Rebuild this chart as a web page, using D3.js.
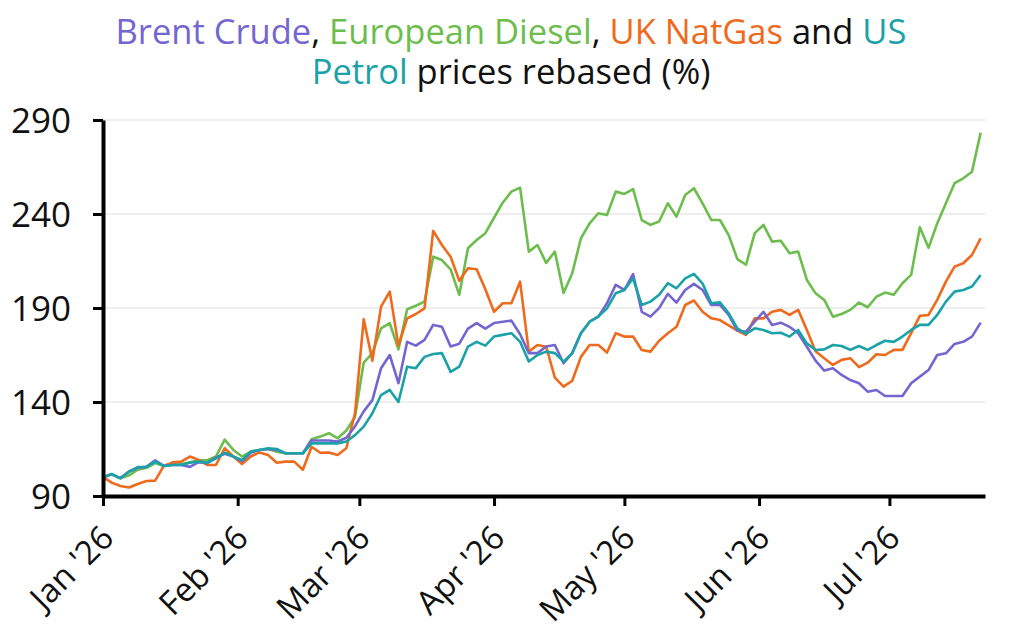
<!DOCTYPE html>
<html lang="en">
<head>
    <meta charset="UTF-8">
    <title>Energy prices rebased</title>
    <script src="https://d3js.org/d3.v7.min.js"></script>
    <style>
        body {
            margin: 0;
            padding: 0;
            background-color: #ffffff;
        }
        svg {
            display: block;
        }
        .grid line {
            stroke: #dddddd;
            stroke-width: 1.2;
        }
        .axis path, .axis line {
            stroke: #000;
        }
        .axis text {
            fill: #111;
        }
    </style>
</head>
<body>
<div id="chart"></div>
<script>
    // sample dates (every second day), Jan 1 to Jul 22 2026
    var dates = [
        "2026-01-01", "2026-01-03", "2026-01-05", "2026-01-07", "2026-01-09", "2026-01-11", "2026-01-13", "2026-01-15",
        "2026-01-17", "2026-01-19", "2026-01-21", "2026-01-23", "2026-01-25", "2026-01-27", "2026-01-29", "2026-01-31",
        "2026-02-02", "2026-02-04", "2026-02-06", "2026-02-08", "2026-02-10", "2026-02-12", "2026-02-14",
        "2026-02-16", "2026-02-18", "2026-02-20", "2026-02-22", "2026-02-24", "2026-02-26", "2026-02-28",
        "2026-03-02", "2026-03-04", "2026-03-06", "2026-03-08", "2026-03-10", "2026-03-12", "2026-03-14", "2026-03-16",
        "2026-03-18", "2026-03-20", "2026-03-22", "2026-03-24", "2026-03-26", "2026-03-28", "2026-03-30",
        "2026-04-01", "2026-04-03", "2026-04-05", "2026-04-07", "2026-04-09", "2026-04-11", "2026-04-13", "2026-04-15",
        "2026-04-17", "2026-04-19", "2026-04-21", "2026-04-23", "2026-04-25", "2026-04-27", "2026-04-29",
        "2026-05-01", "2026-05-03", "2026-05-05", "2026-05-07", "2026-05-09", "2026-05-11", "2026-05-13", "2026-05-15",
        "2026-05-17", "2026-05-19", "2026-05-21", "2026-05-23", "2026-05-25", "2026-05-27", "2026-05-29", "2026-05-31",
        "2026-06-02", "2026-06-04", "2026-06-06", "2026-06-08", "2026-06-10", "2026-06-12", "2026-06-14", "2026-06-16",
        "2026-06-18", "2026-06-20", "2026-06-22", "2026-06-24", "2026-06-26", "2026-06-28", "2026-06-30",
        "2026-07-02", "2026-07-04", "2026-07-06", "2026-07-08", "2026-07-10", "2026-07-12", "2026-07-14", "2026-07-16",
        "2026-07-18", "2026-07-20", "2026-07-22"
    ];

    var brentCrude = [
        100, 101.5, 99.5, 103, 105, 105.5, 109, 106, 106.5, 106.5, 105.5, 108, 107.5, 110.5, 112.5, 111,
        108.5, 113, 114.5, 115, 114.5, 112.7, 112.7, 112.7, 119.5, 119.5, 119.5, 119, 121, 127,
        135, 141, 158, 165, 150, 172, 170, 173, 181, 180, 169.5, 171, 179, 182, 179,
        182, 182.7, 183.3, 176, 166, 166, 169.5, 170.3, 160.6, 166, 176.6, 182.7, 185.4, 192.5, 202.3,
        199.6, 208, 188, 185.4, 189.9, 197.5, 192.9, 199.6, 202.8, 199.6, 191.6, 191.6, 186.3, 178, 177.4, 182.7,
        188, 181, 182.2, 180, 176.6, 169.4, 162, 156.7, 158, 154.4, 151.7, 150, 145.5, 146.4, 143.2,
        143.2, 143.2, 150, 153.5, 157, 165, 165.9, 170.9, 172, 174.8, 182.2
    ];

    var europeanDiesel = [
        100, 101.5, 99.5, 101, 104, 105, 107.5, 106, 107, 107, 108, 109, 109, 111, 120, 114.5,
        111, 113.6, 114.5, 115, 113.6, 112.7, 112.7, 112.7, 120.2, 121.6, 123.4, 120.7, 124.8, 132,
        161, 166, 179.2, 181.9, 168, 189.3, 191.2, 193.4, 217.3, 215.5, 210.6, 197, 221.8, 226.2, 229.8,
        238, 246, 251.9, 254, 220, 223.5, 214, 220, 198, 208.5, 227.1, 235, 240.4, 239.5, 251.9,
        250.7, 253.2, 236.8, 234.2, 236, 245.7, 238.6, 250.1, 253.7, 245.7, 236.8, 236.8, 228.8, 216, 213, 229.8,
        234.2, 225.3, 225.8, 219.1, 220, 204.9, 197.8, 194.3, 185.4, 186.8, 189, 192.9, 190.4, 196, 198.2,
        197, 203.2, 207.6, 233, 222, 235, 245.7, 256.4, 259, 262.5, 283.3
    ];

    var ukNatGas = [
        100, 97.1, 95.3, 94.5, 96.4, 98, 98.2, 106, 107.9, 108.3, 111, 109.2, 106.5, 106.5, 115.4, 111,
        107, 111, 113.2, 111.8, 107.7, 108.3, 108.3, 104, 116.2, 113, 113.1, 111.8, 115.4, 134,
        184, 162, 190.7, 198.7, 170, 184.5, 186.8, 189.8, 231, 223.5, 217.3, 204.5, 211.1, 210.6, 200,
        188, 192.5, 192.5, 204, 166.8, 170.3, 169.4, 153, 148.2, 151.3, 164, 170.3, 170.3, 166.3, 176.6,
        174.8, 174.8, 167.7, 166.8, 172.6, 176.6, 180, 191.6, 194, 188, 184.5, 183.6, 180.8, 178, 175.7, 184.5,
        184.5, 188, 189, 186.3, 189, 178.3, 167, 163.3, 159.7, 162.4, 163.3, 158.5, 160.9, 165.4, 165,
        167.7, 167.7, 176.6, 185.8, 186.3, 194.3, 204, 212, 213.8, 218.2, 227.1
    ];

    var usPetrol = [
        100, 101.7, 99.4, 103, 105.4, 105.5, 108.3, 106, 106.5, 106.5, 107.7, 108.3, 107.7, 110, 113, 111,
        109, 113.6, 114.5, 115.4, 115, 112.7, 112.7, 112.7, 118, 118, 118, 118, 119, 122.4,
        126.9, 134, 143.7, 146.4, 140, 158.8, 158, 164, 165.5, 166, 156, 158.8, 169.5, 172, 170,
        174.8, 175.7, 176.6, 172, 161.5, 165, 166.8, 166, 161.5, 166, 176.6, 182.7, 185.4, 189.8, 197.8,
        199.6, 205.8, 191.6, 193.4, 197, 203.2, 200.5, 205.8, 208.1, 203, 192.5, 193, 187.2, 179.2, 176.2, 179.2,
        178.3, 176.6, 176.8, 174.8, 178.3, 171.2, 167.7, 168, 170.3, 169.8, 167.7, 169.8, 167.7, 170.3, 172.6,
        172, 174.8, 178.3, 181, 181, 186.3, 193.4, 198.7, 199.6, 201.4, 207.6
    ];

    var yTicks = [90, 140, 190, 240, 290];

    var colors = {
        brent: "#7466d1",
        diesel: "#6cbd4e",
        gas: "#ee6a1c",
        petrol: "#1ba2a8"
    };

    var fontFamily = "'Open Sans', sans-serif";
    var width = 1024, height = 644;
    var parseDate = d3.timeParse("%Y-%m-%d");
    var days = dates.map(parseDate);

    var svg = d3.select("#chart")
        .append("svg")
        .attr("width", width)
        .attr("height", height);

    var x = d3.scaleTime()
        .domain([parseDate("2026-01-01"), parseDate("2026-07-23")])
        .range([103, 985]);

    var y = d3.scaleLinear()
        .domain([90, 290])
        .range([496, 120]);

    // title
    var title = svg.append("text")
        .attr("text-anchor", "middle")
        .attr("font-family", fontFamily)
        .style("font-family", fontFamily)
        .style("font-size", "34.5px")
        .style("fill", "#111");

    var line1 = title.append("tspan").attr("x", 511).attr("y", 44);
    line1.append("tspan").style("fill", colors.brent).text("Brent Crude");
    line1.append("tspan").text(", ");
    line1.append("tspan").style("fill", colors.diesel).text("European Diesel");
    line1.append("tspan").text(", ");
    line1.append("tspan").style("fill", colors.gas).text("UK NatGas");
    line1.append("tspan").text(" and ");
    line1.append("tspan").style("fill", colors.petrol).text("US");

    var line2 = title.append("tspan").attr("x", 511).attr("y", 84);
    line2.append("tspan").style("fill", colors.petrol).text("Petrol");
    line2.append("tspan").text(" prices rebased (%)");

    // gridlines
    svg.append("g")
        .attr("class", "grid")
        .selectAll("line")
        .data(yTicks.slice(1))
        .enter()
        .append("line")
        .attr("x1", x.range()[0])
        .attr("x2", x.range()[1])
        .attr("y1", function (d) { return y(d); })
        .attr("y2", function (d) { return y(d); });

    // series lines
    var lineGen = d3.line()
        .x(function (d, i) { return x(days[i]); })
        .y(function (d) { return y(d); });

    var series = [
        { values: europeanDiesel, color: colors.diesel },
        { values: ukNatGas, color: colors.gas },
        { values: brentCrude, color: colors.brent },
        { values: usPetrol, color: colors.petrol }
    ];

    svg.selectAll(".series")
        .data(series)
        .enter()
        .append("path")
        .attr("class", "series")
        .attr("d", function (s) { return lineGen(s.values); })
        .attr("fill", "none")
        .attr("stroke", function (s) { return s.color; })
        .attr("stroke-width", 2.6)
        .attr("stroke-linejoin", "round");

    // y axis
    var yAxis = svg.append("g")
        .attr("class", "axis")
        .attr("transform", "translate(103,0)")
        .call(d3.axisLeft(y).tickValues(yTicks).tickSize(10).tickSizeOuter(0).tickPadding(22));
    yAxis.attr("font-family", fontFamily);
    yAxis.select(".domain").attr("stroke-width", 4);
    yAxis.selectAll(".tick line").attr("stroke-width", 3);
    yAxis.selectAll("text")
        .style("font-family", fontFamily)
        .style("font-size", "35px")
        .attr("dy", "0.36em");

    // x axis
    var xAxis = svg.append("g")
        .attr("class", "axis")
        .attr("transform", "translate(0,496)")
        .call(d3.axisBottom(x)
            .ticks(d3.timeMonth.every(1))
            .tickFormat(d3.timeFormat("%b '%y"))
            .tickSize(10)
            .tickSizeOuter(0));
    xAxis.attr("font-family", fontFamily);
    xAxis.select(".domain").attr("stroke-width", 4);
    xAxis.selectAll(".tick line").attr("stroke-width", 3);
    xAxis.selectAll("text")
        .style("font-family", fontFamily)
        .style("font-size", "33px")
        .style("text-anchor", "end")
        .attr("x", 0)
        .attr("y", 0)
        .attr("dy", 0)
        .attr("transform", "translate(12,44) rotate(-45)");
</script>
</body>
</html>
